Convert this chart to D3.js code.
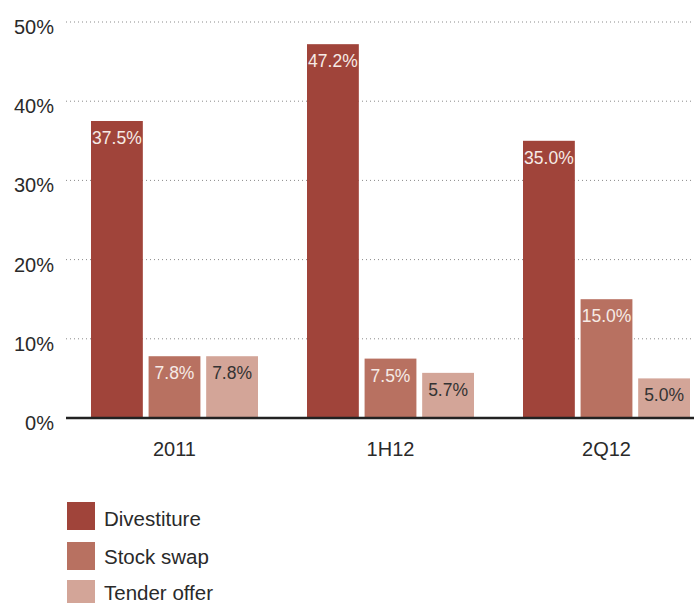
<!DOCTYPE html>
<html>
<head>
<meta charset="utf-8">
<script src="https://cdn.jsdelivr.net/npm/d3@7"></script>
<style>
  html, body { margin: 0; padding: 0; background: #fff; }
  svg { display: block; font-family: "Liberation Sans", Arial, Helvetica, sans-serif; }
</style>
</head>
<body>
<svg id="chart" width="694" height="603"></svg>
<script>
// Deal structure shares by period
const periods = ["2011", "1H12", "2Q12"];
const seriesNames = ["Divestiture", "Stock swap", "Tender offer"];
const divestiture = [37.5, 47.2, 35.0];
const stockSwap = [7.8, 7.5, 15.0];
const tenderOffer = [7.8, 5.7, 5.0];
const yTicks = [0, 10, 20, 30, 40, 50];

const seriesValues = [divestiture, stockSwap, tenderOffer];
const colors = ["#a0443a", "#b87161", "#d3a598"];
const labelColors = ["#f6ebe6", "#f6ebe6", "#333333"];

const svg = d3.select("#chart");
const W = 694;
const left = 66, baseY = 418, topY = 22;

const y = d3.scaleLinear().domain([0, 50]).range([baseY, topY]);
const x0 = d3.scaleBand().domain(periods).range([left, left + 648]);
const x1 = d3.scaleBand().domain(d3.range(seriesNames.length))
  .range([25, 192]).paddingInner(0.1);

// Dotted gridlines
svg.append("g").selectAll("line")
  .data(yTicks.filter(d => d > 0))
  .join("line")
  .attr("x1", left).attr("x2", W)
  .attr("y1", d => y(d)).attr("y2", d => y(d))
  .attr("stroke", "#8a8a8a")
  .attr("stroke-width", 1)
  .attr("stroke-dasharray", "1,3");

// Y tick labels
svg.append("g").selectAll("text")
  .data(yTicks)
  .join("text")
  .attr("x", 54)
  .attr("y", d => y(d) + 12)
  .attr("text-anchor", "end")
  .attr("font-size", 20)
  .attr("fill", "#2a2a2a")
  .text(d => d + "%");

// Bars
const groups = svg.append("g").selectAll("g")
  .data(periods)
  .join("g")
  .attr("transform", d => `translate(${x0(d)},0)`);

groups.selectAll("rect")
  .data((p, i) => seriesValues.map((vals, s) => ({ s, v: vals[i] })))
  .join("rect")
  .attr("x", d => x1(d.s))
  .attr("width", x1.bandwidth())
  .attr("y", d => y(d.v))
  .attr("height", d => baseY - y(d.v))
  .attr("fill", d => colors[d.s]);

// Value labels inside bars
groups.selectAll("text")
  .data((p, i) => seriesValues.map((vals, s) => ({ s, v: vals[i] })))
  .join("text")
  .attr("x", d => x1(d.s) + x1.bandwidth() / 2)
  .attr("y", d => y(d.v) + 23)
  .attr("text-anchor", "middle")
  .attr("font-size", 17.5)
  .attr("fill", d => labelColors[d.s])
  .text(d => d.v.toFixed(1) + "%");

// Baseline
svg.append("line")
  .attr("x1", left).attr("x2", W)
  .attr("y1", baseY).attr("y2", baseY)
  .attr("stroke", "#222")
  .attr("stroke-width", 2.5);

// Period labels
svg.append("g").selectAll("text")
  .data(periods)
  .join("text")
  .attr("x", d => x0(d) + 25 + 167 / 2)
  .attr("y", 456)
  .attr("text-anchor", "middle")
  .attr("font-size", 20)
  .attr("fill", "#2a2a2a")
  .text(d => d);

// Legend
const legend = svg.append("g").selectAll("g")
  .data(seriesNames)
  .join("g")
  .attr("transform", (d, i) => `translate(67,${[502, 542, 580][i]})`);

legend.append("rect")
  .attr("width", 28).attr("height", 28)
  .attr("fill", (d, i) => colors[i]);

legend.append("text")
  .attr("x", 37)
  .attr("y", (d, i) => [24, 22, 20][i])
  .attr("font-size", 20.5)
  .attr("fill", "#2a2a2a")
  .text(d => d);
</script>
</body>
</html>
